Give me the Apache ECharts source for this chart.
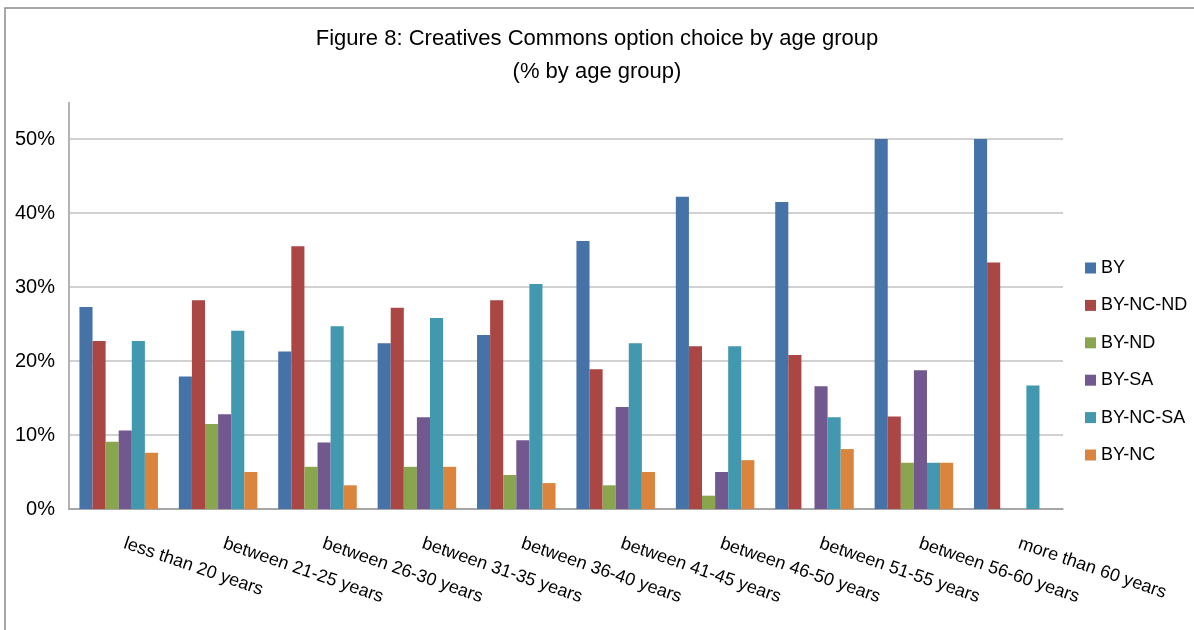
<!DOCTYPE html>
<html>
<head>
<meta charset="utf-8">
<script src="https://cdn.jsdelivr.net/npm/echarts@6/dist/echarts.min.js"></script>
<style>
  html, body { margin: 0; padding: 0; background: #fff; }
  #chart { width: 1194px; height: 630px; }
</style>
</head>
<body>
<div id="chart"></div>
<script>
// age groups on the x axis
var ageGroups = ['less than 20 years', 'between 21-25 years', 'between 26-30 years',
  'between 31-35 years', 'between 36-40 years', 'between 41-45 years',
  'between 46-50 years', 'between 51-55 years', 'between 56-60 years', 'more than 60 years'];

// % per age group
var by      = [27.3, 17.9, 21.3, 22.4, 23.5, 36.2, 42.2, 41.5, 50, 50];
var byNcNd  = [22.7, 28.2, 35.5, 27.2, 28.2, 18.9, 22.0, 20.8, 12.5, 33.3];
var byNd    = [9.1, 11.5, 5.7, 5.7, 4.6, 3.2, 1.8, 0, 6.25, 0];
var bySa    = [10.6, 12.8, 9.0, 12.4, 9.3, 13.8, 5.0, 16.6, 18.75, 0];
var byNcSa  = [22.7, 24.1, 24.7, 25.8, 30.4, 22.4, 22.0, 12.4, 6.25, 16.7];
var byNc    = [7.6, 5.0, 3.2, 5.7, 3.5, 5.0, 6.6, 8.1, 6.25, 0];

var seriesNames = ['BY', 'BY-NC-ND', 'BY-ND', 'BY-SA', 'BY-NC-SA', 'BY-NC'];
var seriesData = [by, byNcNd, byNd, bySa, byNcSa, byNc];
var colors = ['#4572a7', '#aa4643', '#89a54e', '#71588f', '#4198af', '#db843d'];

var yTicks = [0, 10, 20, 30, 40, 50];

var font = '"Liberation Sans", Arial, sans-serif';

var chart = echarts.init(document.getElementById('chart'));

var series = seriesNames.map(function (name, i) {
  return {
    name: name,
    type: 'bar',
    data: seriesData[i],
    barGap: '0%',
    barCategoryGap: '21%',
    itemStyle: { color: colors[i] }
  };
});

chart.setOption({
  animation: false,
  backgroundColor: '#fff',
  color: colors,
  title: {
    text: 'Figure 8: Creatives Commons option choice by age group\n(% by age group)',
    left: 'center',
    top: 17,
    textStyle: { fontFamily: font, fontSize: 22, fontWeight: 'normal', color: '#000', lineHeight: 33 }
  },
  legend: {
    orient: 'vertical',
    left: 1080,
    top: 254,
    itemWidth: 11,
    itemHeight: 11,
    itemGap: 19.4,
    icon: 'rect',
    textStyle: { fontFamily: font, fontSize: 18, color: '#000', lineHeight: 18 }
  },
  grid: { left: 69, right: 131, top: 139, bottom: 121 },
  xAxis: {
    type: 'category',
    data: ageGroups,
    axisLine: { lineStyle: { color: '#999', width: 1.5 } },
    axisTick: { show: false },
    axisLabel: {
      rotate: -19,
      margin: 32,
      interval: 0,
      padding: [0, 0, 0, 6],
      fontFamily: font,
      fontSize: 18,
      color: '#000'
    }
  },
  yAxis: {
    type: 'value',
    min: yTicks[0],
    max: yTicks[yTicks.length - 1],
    interval: 10,
    axisLine: { show: true, lineStyle: { color: '#b3b3b3', width: 2 } },
    axisTick: { show: false },
    axisLabel: {
      formatter: '{value}%',
      margin: 14,
      fontFamily: font,
      fontSize: 20,
      color: '#000'
    },
    splitLine: { lineStyle: { color: '#c2c2c2', width: 1.5 } }
  },
  graphic: [
    { type: 'rect', shape: { x: 5, y: 8, width: 1300, height: 700 },
      style: { fill: 'none', stroke: '#8c8c8c', lineWidth: 1.5 }, silent: true },
    { type: 'line', shape: { x1: 69, y1: 102, x2: 69, y2: 139 },
      style: { stroke: '#b3b3b3', lineWidth: 2 }, silent: true }
  ],
  series: series
});
</script>
</body>
</html>
